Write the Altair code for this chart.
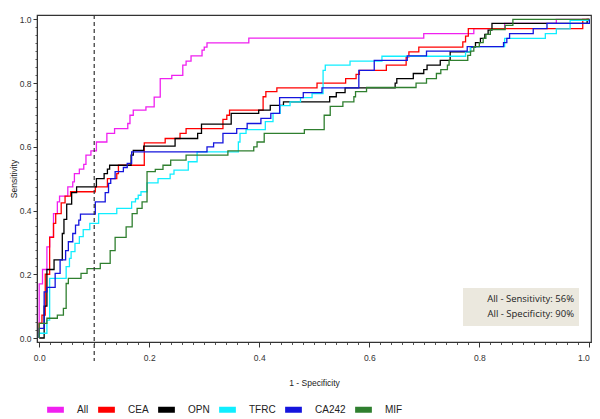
import altair as alt
import pandas as pd

# ---------------- data ----------------
SERIES = ["All", "CEA", "OPN", "TFRC", "CA242", "MIF"]
COLORS = ["#f020f0", "#ff0000", "#000000", "#10eeff", "#1515dd", "#2f7f2f"]

# each pair = (1 - specificity where the step happens, new sensitivity level)
ALL_STEPS = [(0, 0), (0, 0.17), (0.006, 0.215), (0.014, 0.286), (0.019, 0.317), (0.026, 0.39),
             (0.033, 0.427), (0.037, 0.445), (0.052, 0.474), (0.061, 0.49), (0.064, 0.516),
             (0.073, 0.53), (0.081, 0.545), (0.085, 0.574), (0.094, 0.587), (0.104, 0.615),
             (0.123, 0.642), (0.137, 0.657), (0.161, 0.673), (0.165, 0.699), (0.171, 0.715),
             (0.194, 0.725), (0.209, 0.756), (0.220, 0.814), (0.241, 0.824), (0.261, 0.856),
             (0.267, 0.869), (0.276, 0.885), (0.296, 0.903), (0.300, 0.913), (0.305, 0.926),
             (0.381, 0.941), (0.699, 0.955), (0.790, 0.971), (0.846, 0.987), (0.940, 1.0), (1.0, 1.0)]

CEA_STEPS = [(0, 0), (0, 0.047), (0.005, 0.072), (0.011, 0.2), (0.019, 0.316), (0.026, 0.36),
             (0.030, 0.39), (0.040, 0.424), (0.047, 0.445), (0.057, 0.459), (0.102, 0.474),
             (0.124, 0.5), (0.141, 0.516), (0.144, 0.542), (0.191, 0.612), (0.229, 0.626),
             (0.256, 0.642), (0.267, 0.657), (0.334, 0.686), (0.341, 0.699), (0.346, 0.715),
             (0.407, 0.757), (0.412, 0.773), (0.432, 0.785), (0.505, 0.8), (0.557, 0.814),
             (0.576, 0.827), (0.582, 0.84), (0.631, 0.856), (0.667, 0.882), (0.672, 0.898),
             (0.690, 0.913), (0.770, 0.929), (0.775, 0.947), (0.780, 0.971), (0.988, 1.0), (1.0, 1.0)]

OPN_STEPS = [(0, 0), (0.009, 0.1), (0.014, 0.215), (0.027, 0.245), (0.042, 0.328), (0.045, 0.372),
             (0.050, 0.420), (0.059, 0.456), (0.068, 0.474), (0.104, 0.5), (0.118, 0.516),
             (0.124, 0.53), (0.128, 0.542), (0.167, 0.574), (0.171, 0.589), (0.190, 0.602),
             (0.247, 0.626), (0.288, 0.642), (0.295, 0.671), (0.349, 0.705), (0.399, 0.715),
             (0.420, 0.73), (0.444, 0.741), (0.528, 0.757), (0.540, 0.77), (0.556, 0.785),
             (0.647, 0.8), (0.650, 0.814), (0.680, 0.83), (0.699, 0.842), (0.705, 0.856),
             (0.729, 0.871), (0.747, 0.898), (0.784, 0.913), (0.793, 0.927), (0.802, 0.94),
             (0.810, 0.953), (0.816, 0.966), (0.823, 0.987), (0.996, 1.0), (1.0, 1.0)]

TFRC_STEPS = [(0, 0), (0, 0.015), (0.014, 0.056), (0.019, 0.187), (0.049, 0.224), (0.055, 0.25),
              (0.058, 0.271), (0.065, 0.297), (0.073, 0.318), (0.080, 0.34), (0.092, 0.36),
              (0.108, 0.39), (0.141, 0.407), (0.168, 0.427), (0.175, 0.437), (0.180, 0.448),
              (0.185, 0.459), (0.196, 0.487), (0.216, 0.5), (0.238, 0.514), (0.245, 0.527),
              (0.271, 0.553), (0.287, 0.584), (0.362, 0.615), (0.365, 0.642), (0.376, 0.654),
              (0.411, 0.679), (0.425, 0.705), (0.438, 0.729), (0.456, 0.741), (0.475, 0.754),
              (0.496, 0.767), (0.516, 0.84), (0.520, 0.856), (0.565, 0.869), (0.623, 0.884),
              (0.775, 0.898), (0.784, 0.914), (0.846, 0.94), (0.920, 0.955), (0.940, 0.97),
              (0.965, 0.997), (1.0, 1.0)]

CA242_STEPS = [(0, 0), (0, 0.03), (0.009, 0.145), (0.014, 0.159), (0.029, 0.203), (0.038, 0.245),
               (0.048, 0.274), (0.053, 0.302), (0.061, 0.328), (0.066, 0.354), (0.072, 0.37),
               (0.075, 0.389), (0.102, 0.427), (0.120, 0.456), (0.126, 0.485), (0.130, 0.5),
               (0.138, 0.522), (0.153, 0.535), (0.160, 0.548), (0.168, 0.584), (0.305, 0.6),
               (0.317, 0.612), (0.334, 0.642), (0.359, 0.657), (0.378, 0.673), (0.403, 0.689),
               (0.421, 0.705), (0.437, 0.754), (0.480, 0.77), (0.514, 0.785), (0.581, 0.84),
               (0.609, 0.871), (0.669, 0.885), (0.704, 0.9), (0.778, 0.914), (0.844, 0.927),
               (0.850, 0.94), (0.855, 0.955), (0.898, 0.971), (0.923, 0.987), (1.0, 1.0)]

MIF_STEPS = [(0, 0), (0, 0.046), (0.014, 0.062), (0.033, 0.072), (0.044, 0.093), (0.049, 0.171),
             (0.053, 0.187), (0.076, 0.203), (0.087, 0.218), (0.111, 0.234), (0.129, 0.274),
             (0.138, 0.316), (0.158, 0.349), (0.169, 0.39), (0.178, 0.407), (0.187, 0.427),
             (0.196, 0.522), (0.211, 0.529), (0.225, 0.542), (0.239, 0.558), (0.267, 0.574),
             (0.343, 0.587), (0.390, 0.6), (0.396, 0.615), (0.409, 0.642), (0.482, 0.654),
             (0.518, 0.699), (0.529, 0.727), (0.552, 0.741), (0.572, 0.757), (0.575, 0.773),
             (0.595, 0.786), (0.685, 0.8), (0.704, 0.814), (0.722, 0.83), (0.730, 0.842),
             (0.742, 0.856), (0.745, 0.871), (0.779, 0.887), (0.784, 0.9), (0.790, 0.914),
             (0.800, 0.927), (0.807, 0.94), (0.812, 0.953), (0.820, 0.968), (0.847, 0.981),
             (0.861, 1.0), (1.0, 1.0)]

STEPS = {"All": ALL_STEPS, "CEA": CEA_STEPS, "OPN": OPN_STEPS,
         "TFRC": TFRC_STEPS, "CA242": CA242_STEPS, "MIF": MIF_STEPS}

CUTOFF = [0.1]
ANNOT_LINES = ["All - Sensitivity: 56%", "All - Specificity: 90%"]

X_MAJOR = [0.0, 0.2, 0.4, 0.6, 0.8, 1.0]
Y_MAJOR = [0.0, 0.2, 0.4, 0.6, 0.8, 1.0]
X_MINOR = [round(i * 0.02, 2) for i in range(51)]
Y_MINOR = [round(i * 0.025, 3) for i in range(41)]

# ---------------- build table ----------------
rows = []
for name in SERIES:
    for i, (fx, sy) in enumerate(STEPS[name]):
        rows.append({"series": name, "fpr": fx, "tpr": sy, "order": i})
df = pd.DataFrame(rows)

FONT = "Liberation Sans"
xscale = alt.Scale(domain=[-0.004, 1.003], nice=False, zero=False)
yscale = alt.Scale(domain=[-0.0125, 1.0135], nice=False, zero=False)

minor = alt.Chart(df).mark_point(opacity=0).encode(
    x=alt.X("fpr:Q", scale=xscale,
            axis=alt.Axis(orient="bottom", values=X_MINOR, labels=False, domain=False,
                          tickSize=2.5, tickColor="#555", title=None, grid=False)),
    y=alt.Y("tpr:Q", scale=yscale,
            axis=alt.Axis(orient="left", values=Y_MINOR, labels=False, domain=False,
                          tickSize=2, tickColor="#555", title=None, grid=False)),
)

lines = alt.Chart(df).mark_line(interpolate="step-after", strokeWidth=1.3).encode(
    x=alt.X("fpr:Q", scale=xscale,
            axis=alt.Axis(orient="bottom", values=X_MAJOR, format=".1f", title="1 - Specificity",
                          tickSize=5, labelPadding=10, labelBaseline="middle", labelFlush=1.9,
                          titleX=277, titleY=40, titleBaseline="middle", grid=False)),
    y=alt.Y("tpr:Q", scale=yscale,
            axis=alt.Axis(orient="left", values=Y_MAJOR, format=".1f", title="Sensitivity",
                          tickSize=4, labelPadding=2, titleX=-24, titleY=163.5,
                          titleAngle=270, titleBaseline="middle", grid=False)),
    color=alt.Color("series:N", scale=alt.Scale(domain=SERIES, range=COLORS),
                    legend=alt.Legend(orient="none", legendX=7, legendY=383, direction="horizontal",
                                      title=None, symbolType="stroke", symbolStrokeWidth=6,
                                      symbolSize=280, labelFont=FONT, labelFontSize=10,
                                      labelColor="#222", labelOffset=10, columnPadding=-3)),
    order="order:Q",
)

rule = alt.Chart(pd.DataFrame({"cut": CUTOFF})).mark_rule(
    strokeDash=[4, 3], color="#333", strokeWidth=1.2
).encode(x=alt.X("cut:Q", scale=xscale, axis=None), y=alt.value(0), y2=alt.value(346))

one = pd.DataFrame({"k": [0]})
box = alt.Chart(one).mark_rect(fill="#ebe8de").encode(
    x=alt.value(426), x2=alt.value(542), y=alt.value(273), y2=alt.value(311))
t1 = alt.Chart(one).mark_text(align="right", baseline="middle", font="Open Sans", fontSize=9.5,
                              color="#222").encode(x=alt.value(537), y=alt.value(284),
                                                   text=alt.value(ANNOT_LINES[0]))
t2 = alt.Chart(one).mark_text(align="right", baseline="middle", font="Open Sans", fontSize=9.5,
                              color="#222").encode(x=alt.value(537), y=alt.value(299),
                                                   text=alt.value(ANNOT_LINES[1]))

chart = alt.layer(minor, lines, rule, box, t1, t2).resolve_axis(
    x="independent", y="independent"
).properties(
    width=554, height=327,
    padding={"left": 29, "top": 7, "right": 1, "bottom": 76},
    autosize=alt.AutoSizeParams(type="none"),
).configure_view(stroke="#333", strokeWidth=1.2).configure_axis(
    labelFont=FONT, labelFontSize=8.5, labelColor="#333",
    titleFont=FONT, titleFontSize=8.5, titleFontWeight="normal", titleColor="#222",
    tickColor="#333", domainColor="#333",
)

chart.save("out.html", embed_options={"renderer": "svg", "actions": False})
